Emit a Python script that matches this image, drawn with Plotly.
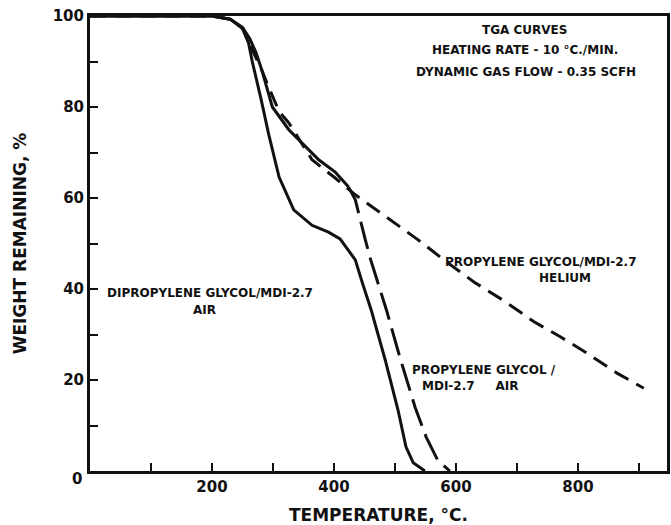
import plotly.graph_objects as go

# ---- data ----
dipro_air_T = [0, 200, 230, 250, 260, 266, 280, 293, 310, 334, 364, 391, 410, 435, 445, 461, 484, 505, 518, 530, 549]
dipro_air_W = [100, 100, 99.3, 97.3, 94, 90, 82, 74, 64.6, 57.4, 54, 52.5, 51, 46.4, 42, 35.4, 24.4, 13.4, 5.3, 1.8, 0]

pro_air_T = [0, 200, 230, 250, 262, 272, 282, 290, 299, 326, 362, 375, 402, 424, 435, 451, 460, 486, 508, 533, 551, 570, 590]
pro_air_W = [100, 100, 99.3, 97.5, 95, 92, 88, 84.5, 80, 75, 70.1, 68.4, 65.7, 62.4, 59.6, 51, 46.5, 35.4, 25, 14, 7.5, 2.4, 0]
pro_air_solid_until = 424  # upper part drawn solid, rest long-dashed

pro_he_T = [0, 200, 230, 250, 261, 274, 282, 290, 300, 310, 326, 347, 364, 402, 435, 484, 538, 587, 630, 680, 728, 771, 815, 864, 908]
pro_he_W = [100, 100, 99.3, 97.3, 94, 90.3, 88, 85.3, 82, 79, 76.5, 72.1, 68.4, 64.4, 60.7, 56, 50.8, 45.7, 41.5, 37.3, 32.8, 29.5, 25.9, 21.5, 18.2]

x_tick_vals = [0, 100, 200, 300, 400, 500, 600, 700, 800, 900]
x_tick_text = ["", "", "200", "", "400", "", "600", "", "800", ""]
y_tick_vals = [0, 10, 20, 30, 40, 50, 60, 70, 80, 90, 100]
y_tick_text = ["", "", "20", "", "40", "", "60", "", "80", "", "100"]

FONT = "DejaVu Sans"
BLACK = "#111111"
LW = 3

fig = go.Figure()

# Dipropylene glycol / MDI-2.7, air (solid)
fig.add_trace(go.Scatter(x=dipro_air_T, y=dipro_air_W, mode="lines",
                         line=dict(color=BLACK, width=LW), showlegend=False))

# Propylene glycol / MDI-2.7, air (solid upper part, long dashes below)
i_split = pro_air_T.index(pro_air_solid_until)
fig.add_trace(go.Scatter(x=pro_air_T[:i_split + 1], y=pro_air_W[:i_split + 1], mode="lines",
                         line=dict(color=BLACK, width=LW), showlegend=False))
fig.add_trace(go.Scatter(x=pro_air_T[i_split:], y=pro_air_W[i_split:], mode="lines",
                         line=dict(color=BLACK, width=LW, dash="28px,9px"), showlegend=False))

# Propylene glycol / MDI-2.7, helium (dashed)
fig.add_trace(go.Scatter(x=pro_he_T, y=pro_he_W, mode="lines",
                         line=dict(color=BLACK, width=LW, dash="16px,9px"), showlegend=False))

ann_font = dict(family=FONT, size=12, color=BLACK, weight="bold")
hdr_font = dict(family=FONT, size=12, color=BLACK, weight="bold")

annotations = [
    dict(text="TGA CURVES", x=527, y=30, font=hdr_font),
    dict(text="HEATING RATE - 10 °C./MIN.", x=527, y=50, font=hdr_font),
    dict(text="DYNAMIC GAS FLOW - 0.35 SCFH", x=528, y=72, font=hdr_font),
    dict(text="PROPYLENE GLYCOL/MDI-2.7", x=445, y=262, font=ann_font, xanchor="left"),
    dict(text="HELIUM", x=567, y=278, font=ann_font),
    dict(text="DIPROPYLENE GLYCOL/MDI-2.7", x=105, y=293, font=ann_font, xanchor="left"),
    dict(text="AIR", x=205, y=310, font=ann_font),
    dict(text="PROPYLENE GLYCOL /", x=412, y=370, font=ann_font, xanchor="left"),
    dict(text="MDI-2.7     AIR", x=422, y=386, font=ann_font, xanchor="left"),
    dict(text="0", x=77, y=479, font=dict(family=FONT, size=15, color=BLACK, weight="bold")),
]
W, H = 671, 525
L, R, T, B = 90, 670, 16, 471
for a in annotations:
    a.setdefault("xanchor", "center")
    fig.add_annotation(text=a["text"], x=(a["x"] - L) / (R - L), y=(B - a["y"]) / (B - T),
                       xref="paper", yref="paper",
                       xanchor=a["xanchor"], yanchor="middle", showarrow=False, font=a["font"])

fig.update_layout(
    width=W, height=H,
    margin=dict(l=L, r=W - R, t=T, b=H - B, pad=0),
    paper_bgcolor="white", plot_bgcolor="white",
    font=dict(family=FONT, color=BLACK),
    xaxis=dict(range=[0, 946], tickvals=x_tick_vals, ticktext=x_tick_text,
               ticks="inside", ticklen=8, tickwidth=2, tickcolor=BLACK,
               showline=True, linewidth=3, linecolor=BLACK, mirror=True,
               showgrid=False, zeroline=False,
               tickfont=dict(family=FONT, size=15, color=BLACK, weight="bold"),
               title=dict(text="TEMPERATURE, °C.", standoff=15,
                          font=dict(family=FONT, size=17, color=BLACK, weight="bold"))),
    yaxis=dict(range=[0, 100], tickvals=y_tick_vals, ticktext=y_tick_text,
               ticks="inside", ticklen=8, tickwidth=2, tickcolor=BLACK,
               showline=True, linewidth=3, linecolor=BLACK, mirror=True,
               showgrid=False, zeroline=False,
               tickfont=dict(family=FONT, size=15, color=BLACK, weight="bold"),
               title=dict(text="WEIGHT REMAINING, %", standoff=22,
                          font=dict(family=FONT, size=17, color=BLACK, weight="bold"))),
)

fig.write_html("out.html")
